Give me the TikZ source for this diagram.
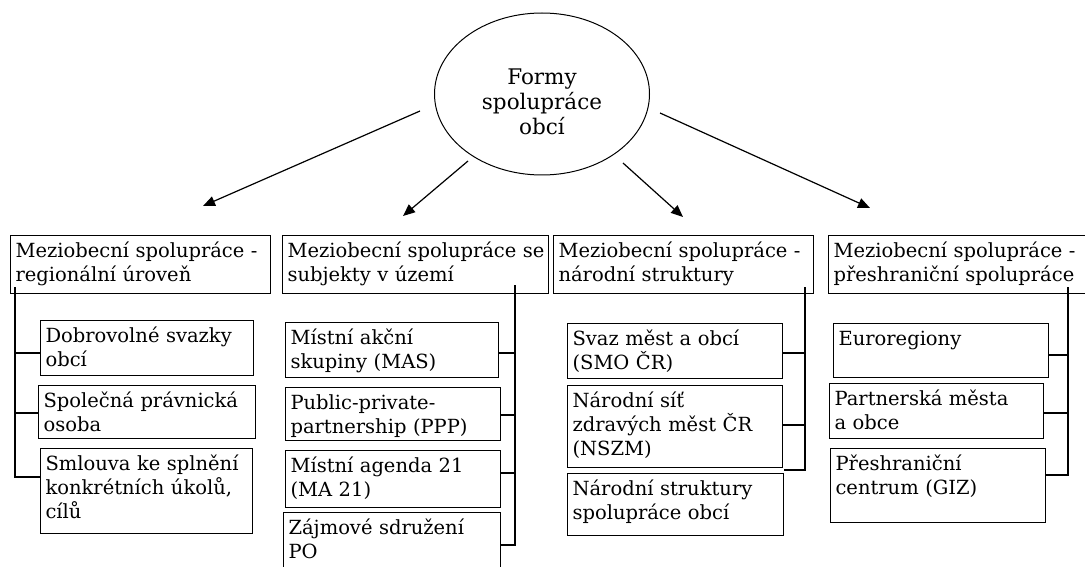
\documentclass[tikz,border=0pt]{standalone}
\usepackage{fontspec}
\newfontfamily\cellfamily{DejaVu Serif}
\usetikzlibrary{shapes.geometric,arrows.meta}

\begin{document}
\begin{tikzpicture}[x=1pt,y=-1pt,line width=1.1pt,
    every node/.style={font=\cellfamily\fontsize{19.5}{24}\selectfont},
    cell/.style={draw,anchor=north west,align=left,inner xsep=5pt,inner ysep=6pt,text height=16pt},
    link/.style={-{Triangle[length=12pt,width=10pt]},line width=1.2pt}]
    % Frame of the page, what sticks out is cut off
    \useasboundingbox (0,0) rectangle (1085,567);
    \clip (0,0) rectangle (1085,567);

    % The root: text sits a bit below the middle of the ellipse
    \node [draw,ellipse,line width=1pt,minimum width=215pt,minimum height=162pt,inner sep=0pt,
           font=\cellfamily\fontsize{21.5}{25}\selectfont,
           text width=150pt,align=center,text height=20pt,text depth=38pt] (form) at (542,94)
          {Formy\\spolupráce\\obcí};

    % Arrows: both ends are free
    \coordinate (go1) at (420,111);  \coordinate (to1) at (203,206);
    \coordinate (go2) at (468,161);  \coordinate (to2) at (403,216);
    \coordinate (go3) at (623,163);  \coordinate (to3) at (683,217);
    \coordinate (go4) at (660,113);  \coordinate (to4) at (870,208);
    \draw [link] (go1) -- (to1);
    \draw [link] (go2) -- (to2);
    \draw [link] (go3) -- (to3);
    \draw [link] (go4) -- (to4);

    % Main groups
    \node [cell,text width=250pt,text depth=30pt] (reg) at (10,235) {Meziobecní spolupráce -\\regionální úroveň};
    \node [cell,text width=256pt,text depth=30pt] (sub) at (282,235) {\mbox{Meziobecní spolupráce se}\\subjekty v území};
    \node [cell,text width=250pt,text depth=30pt] (nar) at (553,235) {Meziobecní spolupráce -\\národní struktury};
    \node [cell,text width=260pt,text depth=30pt] (pre) at (828,235) {Meziobecní spolupráce -\\přeshraniční spolupráce};

    % Regional level
    \node [cell,text width=203pt,text depth=27pt] (dso) at (40,320) {Dobrovolné svazky\\obcí};
    \node [cell,text width=207pt,text depth=25pt] (spo) at (38,385) {Společná právnická\\osoba};
    \node [cell,text width=202pt,text depth=57pt] (sml) at (40,448) {Smlouva ke splnění\\konkrétních úkolů,\\cílů};

    % Subjects in the territory
    \node [cell,text width=203pt,text depth=27pt] (mas) at (285,322) {Místní akční\\skupiny (MAS)};
    \node [cell,text width=205pt,text depth=25pt] (ppp) at (285,387) {Public-private-\\partnership (PPP)};
    \node [cell,text width=205pt,text depth=29pt] (ma21) at (285,450) {Místní agenda 21\\(MA 21)};
    \node [cell,text width=207pt,text depth=42pt] (zsp) at (283,512) {Zájmové sdružení\\PO};

    % National structures
    \node [cell,text width=205pt,text depth=27pt] (smo) at (567,323) {Svaz měst a obcí\\(SMO ČR)};
    \node [cell,text width=205pt,text depth=54pt] (nszm) at (567,385) {Národní síť\\zdravých měst ČR\\(NSZM)};
    \node [cell,text width=206pt,text depth=34pt] (nsso) at (567,473) {Národní struktury\\spolupráce obcí};

    % Cross-border
    \node [cell,text width=205pt,text depth=26pt] (eur) at (833,323) {Euroregiony};
    \node [cell,text width=204pt,text depth=27pt] (pmo) at (829,383) {Partnerská města\\a obce};
    \node [cell,text width=205pt,text depth=46pt] (giz) at (830,448) {Přeshraniční\\centrum (GIZ)};

    % Tree lines, they start inside the group box
    \coordinate (regtop) at (15,287);
    \coordinate (subtop) at (515,285);
    \coordinate (nartop) at (805,287);
    \coordinate (pretop) at (1068,287);
    \foreach \n/\d in {dso/33,spo/28,sml/29}
        \draw (regtop) |- ([yshift=-\d pt]\n.north west);
    \foreach \n/\d in {mas/31,ppp/28,ma21/23,zsp/33}
        \draw (subtop) |- ([yshift=-\d pt]\n.north east);
    \foreach \n/\d in {smo/30,nszm/40,nsso/-3}
        \draw (nartop) |- ([yshift=-\d pt]\n.north east);
    \foreach \n/\d in {eur/32,pmo/30,giz/27}
        \draw (pretop) |- ([yshift=-\d pt]\n.north east);
\end{tikzpicture}
\end{document}
